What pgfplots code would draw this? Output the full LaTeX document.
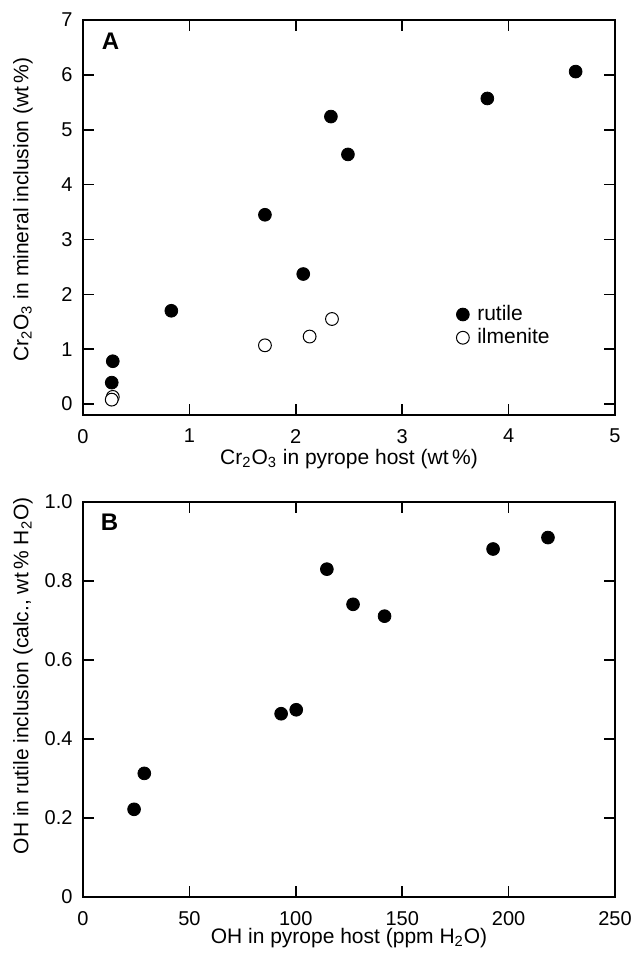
\documentclass[border=0pt]{standalone}
\usepackage{pgfplots}
\pgfplotsset{compat=1.18}
\usepackage{fontspec}
\setmainfont{Liberation Sans}

\pgfplotsset{
  panel/.style={
    scale only axis,
    width=266pt, height=197.5pt,
    axis line style={line width=0.8pt},
    every tick/.style={line width=0.8pt, black},
    major tick length=5.5pt,
    tick align=inside,
    /pgf/number format/assume math mode=true,
    ticklabel style={font=\fontsize{10}{12}\selectfont},
    xticklabel style={yshift=-3.5pt},
    yticklabel style={xshift=-1.7pt},
    label style={font=\fontsize{10.5}{12.6}\selectfont},
  },
  filled/.style={only marks, mark=*, mark size=3.2pt, mark options={fill=black, draw=black}},
  hollow/.style={only marks, mark=*, mark size=3.2pt, mark options={fill=white, draw=black, line width=0.5pt}},
}

\begin{document}
\begin{tikzpicture}
\path[use as bounding box] (-41.5pt,-271.5pt) rectangle (278.5pt,207.5pt);

% panel A
\begin{axis}[
  panel,
  xmin=0, xmax=5, ymin=-0.2, ymax=7,
  xtick={0,1,2,3,4,5}, ytick={0,1,2,3,4,5,6,7},
  xlabel={Cr\textsubscript{2}O\textsubscript{3} in pyrope host (wt\,\%)},
  ylabel={Cr\textsubscript{2}O\textsubscript{3} in mineral inclusion (wt\,\%)},
  xlabel style={at={(axis description cs:0.5,0)}, anchor=center, yshift=-22pt},
  ylabel style={at={(axis description cs:-0.113,0.52)}, anchor=center},
  legend style={at={(axis description cs:0.69,0.225)}, anchor=west, draw=none, fill=none,
    font=\fontsize{10.5}{12.6}\selectfont, row sep=-1.5pt, column sep=2pt},
  legend cell align=left,
  legend image code/.code={\draw[#1] plot coordinates {(0.12cm,0cm)};},
]
\addplot[filled] coordinates {
  (4.63,6.06) (3.80,5.57) (2.33,5.24) (2.49,4.55) (1.71,3.45)
  (2.07,2.37) (0.83,1.70) (0.28,0.78) (0.27,0.39)
};
\addplot[hollow] coordinates {
  (2.34,1.55) (2.13,1.23) (1.71,1.07) (0.28,0.13) (0.27,0.08)
};
\legend{rutile, ilmenite}
\node[font=\fontsize{12}{14}\selectfont\bfseries] at (axis description cs:0.052,0.945) {A};
\end{axis}

% panel B
\begin{axis}[
  panel,
  at={(0,-241pt)}, anchor=south west,
  xmin=0, xmax=250, ymin=0, ymax=1,
  xtick={0,50,100,150,200,250},
  ytick={0,0.2,0.4,0.6,0.8,1.0},
  yticklabels={0,0.2,0.4,0.6,0.8,1.0},
  xlabel={OH in pyrope host (ppm H\textsubscript{2}O)},
  ylabel={OH in rutile inclusion (calc., wt\,\% H\textsubscript{2}O)},
  xlabel style={at={(axis description cs:0.5,0)}, anchor=center, yshift=-20.5pt},
  ylabel style={at={(axis description cs:-0.113,0.56)}, anchor=center},
]
\addplot[filled] coordinates {
  (24.0,0.222) (28.8,0.313) (93.1,0.464) (100.2,0.474) (114.6,0.830)
  (126.9,0.741) (141.7,0.711) (192.7,0.881) (218.5,0.910)
};
\node[font=\fontsize{12}{14}\selectfont\bfseries] at (axis description cs:0.05,0.948) {B};
\end{axis}
\end{tikzpicture}
\end{document}
